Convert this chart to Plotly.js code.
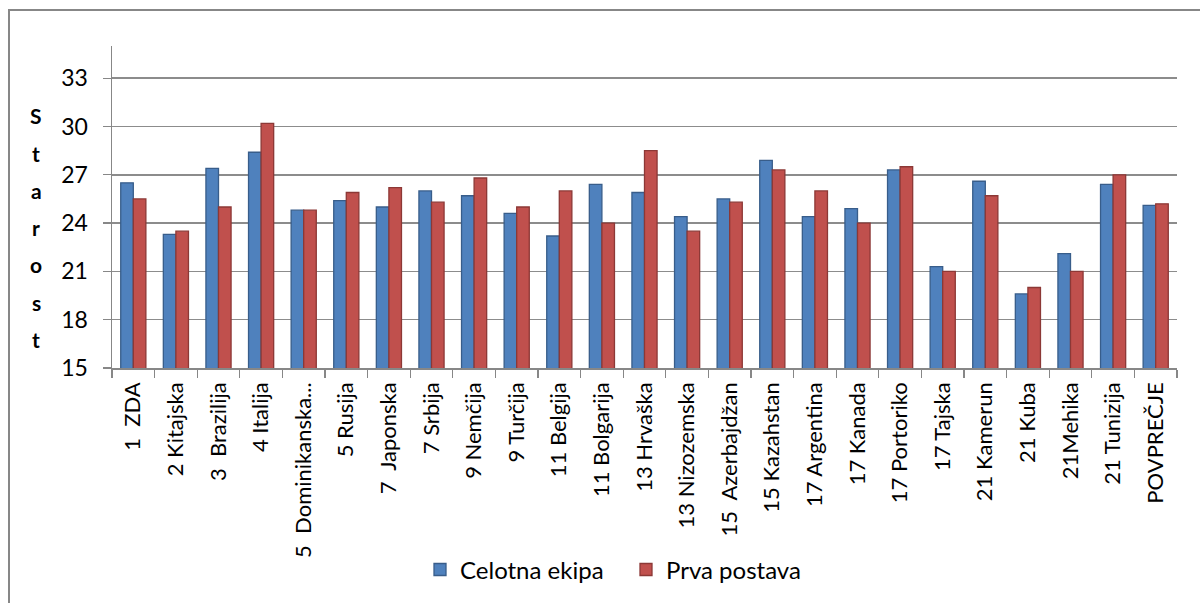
<!DOCTYPE html>
<html>
<head>
<meta charset="utf-8">
<script src="https://cdn.plot.ly/plotly-3.0.1.min.js"></script>
<style>
  html, body { margin: 0; padding: 0; background: #fff; }
  #wrap { position: relative; width: 1200px; height: 603px; overflow: hidden; }
  #chart { position: absolute; left: 0; top: 0; width: 1200px; height: 603px; }
  #frame { position: absolute; left: 8px; top: 9px; width: 1300px; height: 700px;
           border-left: 2px solid #878787; border-top: 2px solid #878787; pointer-events: none; }
</style>
</head>
<body>
<div id="wrap">
  <div id="chart"></div>
  <div id="frame"></div>
</div>
<script>
const categories = [
  "1\u00a0\u00a0ZDA", "2 Kitajska", "3\u00a0\u00a0Brazilija", "4 Italija", "5\u00a0\u00a0Dominikanska...",
  "5 Rusija", "7\u00a0\u00a0Japonska", "7 Srbija", "9 Nemčija", "9 Turčija",
  "11 Belgija", "11 Bolgarija", "13 Hrvaška", "13 Nizozemska", "15\u00a0\u00a0Azerbajdžan",
  "15 Kazahstan", "17 Argentina", "17 Kanada", "17 Portoriko", "17 Tajska",
  "21 Kamerun", "21 Kuba", "21Mehika", "21 Tunizija", "POVPREČJE"
];
const celotnaEkipa = [
  26.5, 23.3, 27.4, 28.4, 24.8,
  25.4, 25.0, 26.0, 25.7, 24.6,
  23.2, 26.4, 25.9, 24.4, 25.5,
  27.9, 24.4, 24.9, 27.3, 21.3,
  26.6, 19.6, 22.1, 26.4, 25.1
];
const prvaPostava = [
  25.5, 23.5, 25.0, 30.2, 24.8,
  25.9, 26.2, 25.3, 26.8, 25.0,
  26.0, 24.0, 28.5, 23.5, 25.3,
  27.3, 26.0, 24.0, 27.5, 21.0,
  25.7, 20.0, 21.0, 27.0, 25.2
];
const seriesNames = ["Celotna ekipa", "Prva postava"];
const yTicks = [15, 18, 21, 24, 27, 30, 33];
const yTitle = "Starost";

const FONT = "Lato, Open Sans, sans-serif";

const traces = [
  {
    type: "bar", name: seriesNames[0], x: categories, y: celotnaEkipa,
    marker: { color: "#4f81bd", line: { color: "#385d8a", width: 1.3 } },
    hoverinfo: "x+y"
  },
  {
    type: "bar", name: seriesNames[1], x: categories, y: prvaPostava,
    marker: { color: "#c0504d", line: { color: "#8c3836", width: 1.3 } },
    hoverinfo: "x+y"
  }
];

// vertical stacked axis title letters
const mTop = 46, mBot = 234, H = 603;
const plotH = H - mTop - mBot;
const annotations = yTitle.split("").map((ch, i) => {
  const py = 116 + 37.4 * i;
  return {
    text: ch, xref: "paper", yref: "paper",
    x: (36 - 112) / 1065, y: (H - mBot - py) / plotH,
    xanchor: "center", yanchor: "middle", showarrow: false,
    font: { family: FONT, size: 21, color: "#000", weight: "bold" }
  };
});

const layout = {
  width: 1200, height: 603,
  margin: { l: 112, r: 23, t: mTop, b: mBot, pad: 0 },
  paper_bgcolor: "rgba(0,0,0,0)", plot_bgcolor: "#fff",
  barmode: "group", bargap: 0.41, bargroupgap: 0,
  font: { family: FONT, size: 22, color: "#000" },
  xaxis: {
    type: "category", tickangle: -90, tickson: "boundaries",
    ticks: "outside", ticklen: 8, tickwidth: 1.3, tickcolor: "#878787",
    showline: true, linecolor: "#878787", linewidth: 1.5,
    showgrid: false, tickfont: { family: FONT, size: 22, color: "#000" },
    ticklabelstandoff: 4
  },
  yaxis: {
    range: [15, 35], tickvals: yTicks, ticktext: yTicks.map(String),
    ticks: "outside", ticklen: 8, tickwidth: 1.3, tickcolor: "#878787",
    showline: true, linecolor: "#878787", linewidth: 1.5,
    showgrid: true, gridcolor: "#8c8c8c", gridwidth: 1.5,
    zeroline: false, tickfont: { family: FONT, size: 23, color: "#000" },
    ticklabelstandoff: 10
  },
  legend: {
    orientation: "h", x: (420 - 112) / 1065, xanchor: "left", y: -0.622, yanchor: "middle",
    font: { family: FONT, size: 24, color: "#000" }, itemwidth: 30,
    entrywidth: 161, entrywidthmode: "pixels",
    bgcolor: "rgba(0,0,0,0)"
  },
  annotations: annotations,
  showlegend: true
};

Plotly.newPlot("chart", traces, layout, { displayModeBar: false, staticPlot: true });
</script>
</body>
</html>
